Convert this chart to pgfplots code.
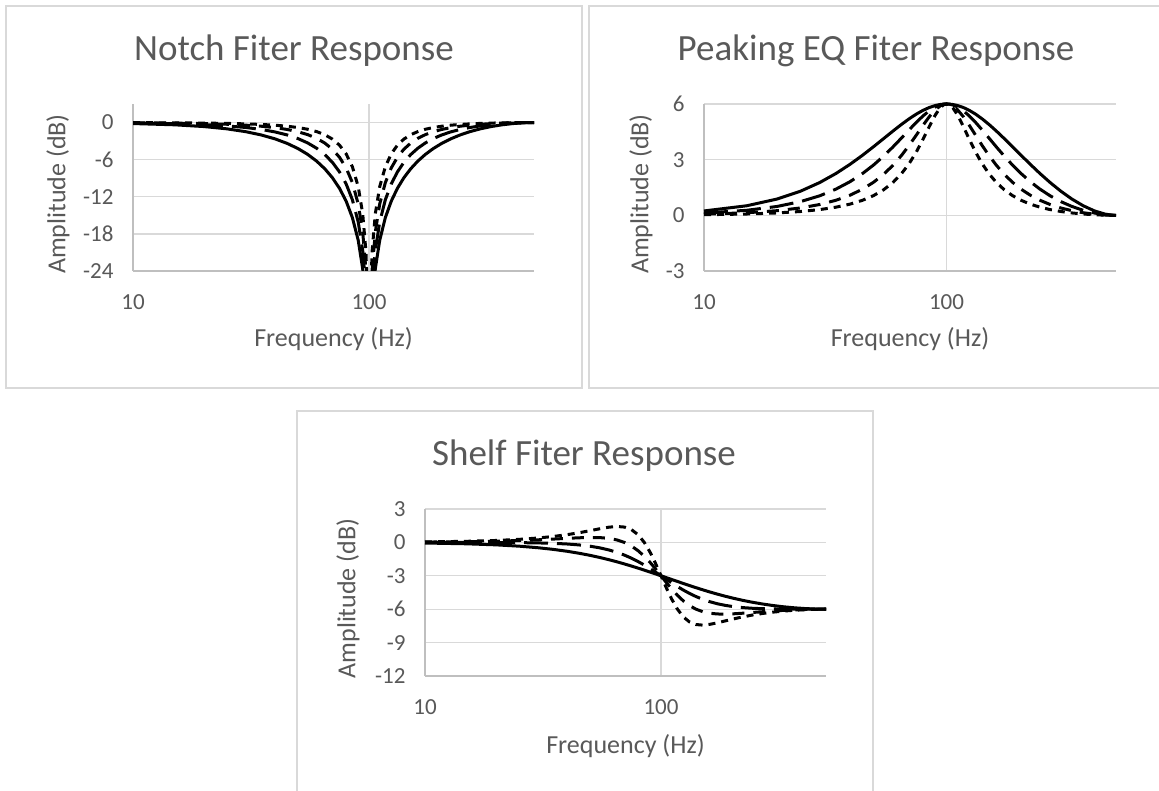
\documentclass[border=0pt]{standalone}
\usepackage{fontspec}
\setmainfont{Carlito}
\usepackage{pgfplots}
\pgfplotsset{compat=1.18}
\usepackage{pgfplotstable}
\definecolor{txt}{HTML}{595959}
\definecolor{gridc}{HTML}{D9D9D9}
\definecolor{axc}{HTML}{BFBFBF}
\newcommand\tickfont{\fontsize{23}{27}\selectfont}
\newcommand\labfont{\fontsize{26}{30}\selectfont}
\newcommand\titfont{\fontsize{37}{42}\selectfont}

% columns: frequency, Q=0.5 (solid), Q=0.707 (long dash), Q=1 (dash), Q=1.414 (short dash)
\pgfplotstableread{
f a b c d
10 -0.163 -0.082 -0.041 -0.021
15 -0.366 -0.187 -0.094 -0.047
20 -0.652 -0.338 -0.172 -0.087
25 -1.020 -0.540 -0.278 -0.141
30 -1.474 -0.799 -0.418 -0.214
35 -2.015 -1.123 -0.598 -0.309
40 -2.646 -1.522 -0.827 -0.433
45 -3.375 -2.007 -1.119 -0.595
50 -4.208 -2.595 -1.489 -0.808
55 -5.157 -3.303 -1.958 -1.088
60 -6.244 -4.159 -2.560 -1.466
65 -7.488 -5.191 -3.329 -1.976
70 -8.934 -6.446 -4.323 -2.679
75 -10.642 -7.991 -5.621 -3.663
80 -12.719 -9.935 -7.344 -5.069
85 -15.368 -12.482 -9.710 -7.141
90 -19.043 -16.087 -13.182 -10.376
94 -23.638 -20.646 -17.673 -14.736
97 -29.77 -26.76 -23.76 -20.77
99 -39.38 -36.37 -33.36 -30.36
100 -60 -60 -60 -60
101.01 -39.38 -36.37 -33.36 -30.36
103.08 -29.77 -26.76 -23.76 -20.77
106.33 -23.638 -20.646 -17.673 -14.736
110.97 -19.043 -16.087 -13.182 -10.376
117.25 -15.368 -12.482 -9.710 -7.141
124.18 -12.719 -9.935 -7.344 -5.069
131.87 -10.642 -7.991 -5.621 -3.663
140.45 -8.934 -6.446 -4.323 -2.679
150.07 -7.488 -5.191 -3.329 -1.976
160.89 -6.244 -4.159 -2.560 -1.466
173.19 -5.157 -3.303 -1.958 -1.088
187.14 -4.208 -2.595 -1.489 -0.808
203.16 -3.375 -2.007 -1.119 -0.595
221.58 -2.646 -1.522 -0.827 -0.433
242.88 -2.015 -1.123 -0.598 -0.309
267.55 -1.474 -0.799 -0.418 -0.214
296.10 -1.020 -0.540 -0.278 -0.141
328.90 -0.652 -0.338 -0.172 -0.087
366.30 -0.366 -0.187 -0.094 -0.047
407.90 -0.163 -0.082 -0.041 -0.021
450 -0.046 -0.023 -0.012 -0.006
480 -0.007 -0.004 -0.002 -0.001
500 0 0 0 0
}\notchdata

\pgfplotstableread{
f a b c d
10 0.236 0.121 0.061 0.031
15 0.515 0.271 0.139 0.070
20 0.877 0.478 0.250 0.128
25 1.301 0.739 0.397 0.206
30 1.767 1.052 0.583 0.308
35 2.254 1.412 0.811 0.439
40 2.748 1.813 1.084 0.603
45 3.232 2.248 1.407 0.808
50 3.697 2.710 1.781 1.062
55 4.132 3.188 2.206 1.375
60 4.531 3.672 2.684 1.759
65 4.886 4.146 3.204 2.222
70 5.194 4.595 3.755 2.771
75 5.451 5.004 4.314 3.403
80 5.657 5.356 4.850 4.095
85 5.813 5.638 5.323 4.796
90 5.919 5.841 5.692 5.417
94 5.972 5.944 5.890 5.784
97 5.994 5.987 5.973 5.946
99 5.999 5.998 5.997 5.994
100 6.000 6.000 6.000 6.000
101.01 5.999 5.998 5.997 5.994
103.08 5.994 5.987 5.973 5.946
106.33 5.972 5.944 5.890 5.784
110.97 5.919 5.841 5.692 5.417
117.25 5.813 5.638 5.323 4.796
124.18 5.657 5.356 4.850 4.095
131.87 5.451 5.004 4.314 3.403
140.45 5.194 4.595 3.755 2.771
150.07 4.886 4.146 3.204 2.222
160.89 4.531 3.672 2.684 1.759
173.19 4.132 3.188 2.206 1.375
187.14 3.697 2.710 1.781 1.062
203.16 3.232 2.248 1.407 0.808
221.58 2.748 1.813 1.084 0.603
242.88 2.254 1.412 0.811 0.439
267.55 1.767 1.052 0.583 0.308
296.10 1.301 0.739 0.397 0.206
328.90 0.877 0.478 0.250 0.128
366.30 0.515 0.271 0.139 0.070
407.90 0.236 0.121 0.061 0.031
450 0.069 0.035 0.017 0.009
480 0.011 0.005 0.003 0.001
500 0 0 0 0
}\peakdata

\pgfplotstableread{
f a b c d
10 -0.057 -0.001 0.028 0.043
15 -0.126 -0.003 0.063 0.097
20 -0.221 -0.009 0.110 0.173
25 -0.338 -0.022 0.167 0.271
30 -0.476 -0.046 0.231 0.391
35 -0.630 -0.085 0.298 0.533
40 -0.798 -0.144 0.362 0.694
45 -0.977 -0.228 0.414 0.869
50 -1.163 -0.342 0.441 1.051
55 -1.355 -0.490 0.430 1.223
60 -1.549 -0.673 0.363 1.363
65 -1.743 -0.891 0.222 1.430
70 -1.937 -1.142 -0.007 1.376
75 -2.127 -1.422 -0.332 1.142
80 -2.313 -1.724 -0.753 0.683
85 -2.494 -2.040 -1.254 -0.012
90 -2.668 -2.362 -1.814 -0.907
94 -2.805 -2.622 -2.288 -1.725
97 -2.904 -2.813 -2.646 -2.362
99 -2.968 -2.938 -2.883 -2.788
100 -3 -3 -3 -3
101.01 -3.032 -3.062 -3.117 -3.212
103.08 -3.096 -3.187 -3.354 -3.638
106.33 -3.195 -3.378 -3.712 -4.275
110.97 -3.332 -3.638 -4.186 -5.093
117.25 -3.506 -3.960 -4.746 -5.988
124.18 -3.687 -4.276 -5.247 -6.683
131.87 -3.873 -4.578 -5.668 -7.142
140.45 -4.063 -4.858 -5.993 -7.376
150.07 -4.257 -5.109 -6.222 -7.430
160.89 -4.451 -5.327 -6.363 -7.363
173.19 -4.645 -5.510 -6.430 -7.223
187.14 -4.837 -5.658 -6.441 -7.051
203.16 -5.023 -5.772 -6.414 -6.869
221.58 -5.202 -5.856 -6.362 -6.694
242.88 -5.370 -5.915 -6.298 -6.533
267.55 -5.524 -5.954 -6.231 -6.391
296.10 -5.662 -5.978 -6.167 -6.271
328.90 -5.779 -5.991 -6.110 -6.173
366.30 -5.874 -5.997 -6.063 -6.097
407.90 -5.943 -5.999 -6.028 -6.043
450 -5.984 -6.000 -6.008 -6.012
480 -5.997 -6.000 -6.001 -6.002
500 -6 -6 -6 -6
}\shelfdata

\tikzset{
  qa/.style={black, line width=3pt, solid, line join=round},
  qb/.style={black, line width=3pt, dash pattern=on 24pt off 9pt, line join=round},
  qc/.style={black, line width=3pt, dash pattern=on 12pt off 9pt, line join=round},
  qd/.style={black, line width=3pt, dash pattern=on 7pt off 6pt, line join=round},
}

\begin{document}
\begin{tikzpicture}[x=1pt,y=1pt]
\useasboundingbox (0,0) rectangle (1159,791);
\fill[white] (0,0) rectangle (1159,791);
% panel frames
\draw[gridc, line width=1.3pt] (6,403) rectangle (582,785);
\draw[gridc, line width=1.3pt] (589,403) rectangle (1165,785);
\draw[gridc, line width=1.3pt] (297,-2) rectangle (873,380);

% Notch
\begin{axis}[xmode=log, log basis x=10,
  scale only axis, anchor=south west,
  at={(133pt,520pt)}, width=401pt, height=167pt,
  xmin=10, xmax=500, xtick={10,100}, xticklabels={10,100},
  ymin=-24, ymax=3, ytick={-24,-18,-12,-6,0}, yticklabels={-24,-18,-12,-6,0},
  axis x line*=bottom, axis y line*=left,
  axis line style={draw=axc, line width=1.6pt, -},
  major tick length=0pt, minor tick length=0pt,
  xmajorgrids, ymajorgrids,
  major grid style={draw=gridc, line width=1.3pt},
  tick label style={font=\tickfont, text=txt},
  yticklabel style={xshift=-16pt},
  xticklabel style={yshift=-20pt}]
\addplot[qd, mark=none] table[x=f, y=d] {\notchdata};
\addplot[qc, mark=none] table[x=f, y=c] {\notchdata};
\addplot[qb, mark=none] table[x=f, y=b] {\notchdata};
\addplot[qa, mark=none] table[x=f, y=a] {\notchdata};
\end{axis}

% Peaking EQ
\begin{axis}[xmode=log, log basis x=10,
  scale only axis, anchor=south west,
  at={(704pt,520pt)}, width=412pt, height=167pt, clip=false,
  xmin=10, xmax=500, xtick={10,100}, xticklabels={10,100},
  ymin=-3, ymax=6, ytick={-3,0,3,6}, yticklabels={-3,0,3,6},
  axis x line*=bottom, axis y line*=left,
  axis line style={draw=axc, line width=1.6pt, -},
  major tick length=0pt, minor tick length=0pt,
  xmajorgrids, ymajorgrids,
  major grid style={draw=gridc, line width=1.3pt},
  tick label style={font=\tickfont, text=txt},
  yticklabel style={xshift=-16pt},
  xticklabel style={yshift=-20pt}]
\addplot[qd, mark=none] table[x=f, y=d] {\peakdata};
\addplot[qc, mark=none] table[x=f, y=c] {\peakdata};
\addplot[qb, mark=none] table[x=f, y=b] {\peakdata};
\addplot[qa, mark=none] table[x=f, y=a] {\peakdata};
\end{axis}

% Shelf
\begin{axis}[xmode=log, log basis x=10,
  scale only axis, anchor=south west,
  at={(425pt,115pt)}, width=401pt, height=167pt, clip=false,
  xmin=10, xmax=500, xtick={10,100}, xticklabels={10,100},
  ymin=-12, ymax=3, ytick={-12,-9,-6,-3,0,3}, yticklabels={-12,-9,-6,-3,0,3},
  axis x line*=bottom, axis y line*=left,
  axis line style={draw=axc, line width=1.6pt, -},
  major tick length=0pt, minor tick length=0pt,
  xmajorgrids, ymajorgrids,
  major grid style={draw=gridc, line width=1.3pt},
  tick label style={font=\tickfont, text=txt},
  yticklabel style={xshift=-16pt},
  xticklabel style={yshift=-20pt}]
\addplot[qd, mark=none] table[x=f, y=d] {\shelfdata};
\addplot[qc, mark=none] table[x=f, y=c] {\shelfdata};
\addplot[qb, mark=none] table[x=f, y=b] {\shelfdata};
\addplot[qa, mark=none] table[x=f, y=a] {\shelfdata};
\end{axis}

% titles
\node[anchor=base, text=txt, font=\titfont, inner sep=0] at (294,730) {Notch Fiter Response};
\node[anchor=base, text=txt, font=\titfont, inner sep=0] at (876,730) {Peaking EQ Fiter Response};
\node[anchor=base, text=txt, font=\titfont, inner sep=0] at (584,325) {Shelf Fiter Response};
% x labels
\node[anchor=base, text=txt, font=\labfont, inner sep=0] at (333.5,444) {Frequency (Hz)};
\node[anchor=base, text=txt, font=\labfont, inner sep=0] at (910,444) {Frequency (Hz)};
\node[anchor=base, text=txt, font=\labfont, inner sep=0] at (625.5,37) {Frequency (Hz)};
% y labels
\node[rotate=90, text=txt, font=\labfont, inner sep=0] at (58,597) {Amplitude (dB)};
\node[rotate=90, text=txt, font=\labfont, inner sep=0] at (641,597) {Amplitude (dB)};
\node[rotate=90, text=txt, font=\labfont, inner sep=0] at (348,192.5) {Amplitude (dB)};
\end{tikzpicture}
\end{document}
